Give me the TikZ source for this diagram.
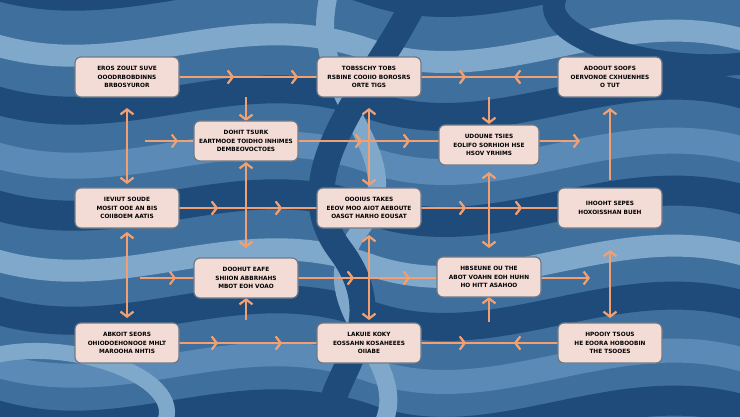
\documentclass[tikz,border=0pt]{standalone}
\usepackage{fontspec}
\setmainfont{DejaVu Sans}
\usetikzlibrary{arrows.meta,decorations.markings}
\definecolor{bgA}{HTML}{3F6F9C}
\definecolor{bgD}{HTML}{1E4B7A}
\definecolor{bgL}{HTML}{7FA8CB}
\definecolor{bgM}{HTML}{5A8AB5}
\definecolor{org}{HTML}{F2A072}
\definecolor{boxf}{HTML}{F3DCD6}
\definecolor{boxd}{HTML}{6F7A88}
\tikzset{
 bx/.style={draw=boxd,line width=1.2pt,fill=boxf,rounded corners=6pt,minimum width=104pt,minimum height=40pt,align=center,font=\fontsize{5.8}{8.5}\selectfont\bfseries,inner sep=2pt},
 ln/.style={draw=org,line width=2.2pt},
 ch/.style={postaction={decorate},decoration={markings,mark=at position #1 with {\arrow[org,line width=2pt]{Straight Barb[length=5pt,width=13pt]}}}},
 chr/.style={postaction={decorate},decoration={markings,mark=at position #1 with {\arrowreversed[org,line width=2pt]{Straight Barb[length=5pt,width=13pt]}}}},
 ar/.style={ln,-{Straight Barb[length=5pt,width=13pt]}},
 dar/.style={ln,{Straight Barb[length=5pt,width=13pt]}-{Straight Barb[length=5pt,width=13pt]}},
 wv/.style={line width=#1, line cap=round}
}
\begin{document}
\begin{tikzpicture}[x=1pt,y=-1pt]
\useasboundingbox (0,0) rectangle (740,416);
\begin{scope}
\clip (-3,-3) rectangle (743,419);
\fill[bgA] (-5,-5) rectangle (745,421);
\foreach \yy/\c/\w in {-20/bgD/30,40/bgL/22,95/bgD/28,150/bgM/26,200/bgD/30,255/bgL/22,305/bgD/28,360/bgM/24,410/bgD/30}{
 \draw[\c,wv=\w] (-20,\yy) .. controls (120,\yy+50) and (230,\yy-40) .. (370,\yy+10) .. controls (500,\yy+55) and (620,\yy-45) .. (760,\yy+5);
}
\draw[bgL,wv=18] (330,-10) .. controls (300,100) and (420,150) .. (360,230) .. controls (300,310) and (420,360) .. (380,430);
\draw[bgD,wv=26] (420,-10) .. controls (380,80) and (280,170) .. (340,250) .. controls (400,330) and (320,380) .. (330,430);
\draw[bgD,wv=22] (560,-10) .. controls (520,40) and (680,80) .. (760,60);
\draw[bgL,wv=16] (160,430) .. controls (200,380) and (60,330) .. (-20,360);
\end{scope}
% connectors
\draw[ln,ch=0.4,ch=0.8] (170,77) -- (330,77);
\draw[ln,ch=0.35,chr=0.65] (410,77) -- (570,77);
\draw[ln,ch=0.6] (145,141) -- (200,141);
\draw[ln,ch=0.45,ch=0.75] (290,141) -- (450,141);
\draw[ln,ch=0.3,ch=0.7] (170,208) -- (330,208);
\draw[ln,ch=0.35,ch=0.7] (410,208) -- (570,208);
\draw[ln,ch=0.6] (140,278) -- (200,278);
\draw[ln,ch=0.4,ch=0.75] (290,278) -- (450,278);
\draw[ln,ch=0.3,ch=0.7] (170,343) -- (330,343);
\draw[ln,ch=0.35,chr=0.65] (410,343) -- (570,343);
\coordinate (e2) at (580,141); \coordinate (e4) at (590,278);
\draw[ar] (530,141) -- (e2);
\draw[ar] (530,278) -- (e4);
\draw[ar] (246,97) -- (246,121);
\draw[ar] (489,97) -- (489,124);
\draw[dar] (127,108) -- (127,184);
\draw[dar] (127,232) -- (127,318);
\draw[dar] (610,250) -- (610,318);
\draw[ar] (610,180) -- (610,108);
\draw[dar] (369,108) -- (369,186);
\draw[dar] (246,162) -- (246,248);
\draw[dar] (489,172) -- (489,248);
\draw[dar] (369,235) -- (369,320);
\draw[ar] (246,320) -- (246,298);
\draw[ar] (489,322) -- (489,297);
% boxes
\node[bx] (A) at (127,77) {EROS ZOULT SUVE\\ OOODRBOBDINNS\\ BRBOSYUROR};
\node[bx] (B) at (369,77) {TOBSSCHY TOBS\\ RSBINE COOIIO BOROSRS\\ ORTE TIGS};
\node[bx] (C) at (610,77) {ADOOUT SOOFS\\ OERVONOE CXHUENHES\\ O TUT};
\node[bx] (D) at (246,141) {DOHIT TSURK\\ EARTMOOE TOIDHO INHIMES\\ DEMBEOVOCTOES};
\node[bx,minimum width=100pt] (E) at (489,145) {UDOUNE TSIES\\ EOLIFO SORHIOH HSE\\ HSOV YRHIMS};
\node[bx] (F) at (127,208) {IEVIUT SOUDE\\ MOSIT OOE AN BIS\\ COIIBOEM AATIS};
\node[bx] (G) at (369,208) {OOOIUS TAKES\\ EEOV MOO AIOT AEBOUTE\\ OASGT HARHO EOUSAT};
\node[bx] (H) at (610,208) {IHOOHT SEPES\\ HOXOISSHAN BUEH};
\node[bx] (I) at (246,278) {DOOHUT EAFE\\ SHIION ABBRHAHS\\ MBOT EOH VOAO};
\node[bx] (J) at (489,277) {HBSEUNE OU THE\\ ABOT VOAHN EOH HUHN\\ HO HITT ASAHOO};
\node[bx] (K) at (127,343) {ABKOIT SEORS\\ OHIODOEHONOOE MHLT\\ MAROOHA NHTIS};
\node[bx] (L) at (369,343) {LAKUIE KOKY\\ EOSSAHN KOSAHEEES\\ OIIABE};
\node[bx] (M) at (610,343) {HPOOIY TSOUS\\ HE EOORA HOBOOBIN\\ THE TSOOES};
\end{tikzpicture}
\end{document}
